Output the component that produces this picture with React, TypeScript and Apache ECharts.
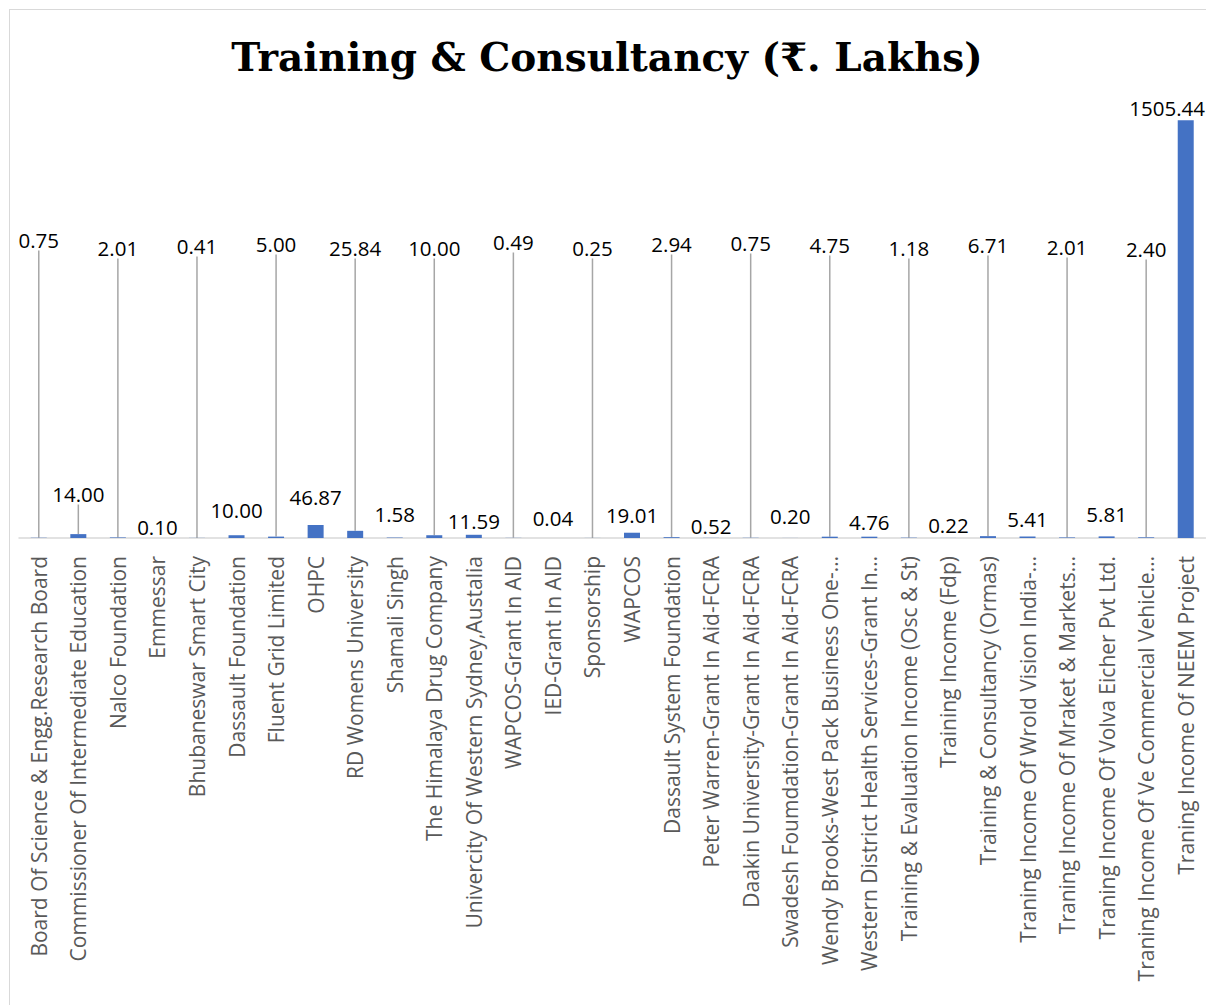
import React, { useEffect, useRef } from "react";
import * as echarts from "echarts";

const categories: string[] = [
  "Board Of Science & Engg.Research Board",
  "Commissioner Of Intermediate Education",
  "Nalco Foundation",
  "Emmessar",
  "Bhubaneswar Smart City",
  "Dassault Foundation",
  "Fluent Grid Limited",
  "OHPC",
  "RD Womens University",
  "Shamali Singh",
  "The Himalaya Drug Company",
  "Univercity Of Western Sydney,Austalia",
  "WAPCOS-Grant In AID",
  "IED-Grant In AID",
  "Sponsorship",
  "WAPCOS",
  "Dassault System Foundation",
  "Peter Warren-Grant In Aid-FCRA",
  "Daakin University-Grant In Aid-FCRA",
  "Swadesh Foumdation-Grant In Aid-FCRA",
  "Wendy Brooks-West Pack Business One-…",
  "Western District Health Services-Grant In…",
  "Training & Evaluation Income (Osc & St)",
  "Training Income (Fdp)",
  "Training & Consultancy (Ormas)",
  "Traning Income Of Wrold Vision India-…",
  "Traning Income Of Mraket & Markets…",
  "Traning Income Of Volva Eicher Pvt Ltd.",
  "Traning Income Of Ve Commercial Vehicle…",
  "Traning Income Of NEEM Project",
];

const values: number[] = [
  0.75, 14.0, 2.01, 0.1, 0.41, 10.0, 5.0, 46.87, 25.84, 1.58, 10.0, 11.59, 0.49, 0.04, 0.25,
  19.01, 2.94, 0.52, 0.75, 0.2, 4.75, 4.76, 1.18, 0.22, 6.71, 5.41, 2.01, 5.81, 2.4, 1505.44,
];

// label centre heights as placed in the reference (page pixels)
const labelCenterY: number[] = [
  240, 494, 248, 527, 246, 510, 244, 497, 248, 514, 248, 521, 242, 518, 248,
  515, 244, 526, 243, 516, 245, 522, 248, 525, 245, 519, 247, 514, 249, 108,
];
// which labels get a leader line
const leaderLine: boolean[] = values.map((_, i) => (i % 2 === 0 && i < 29) || i === 1);

const OFFSET = 10; // div content origin on the page
const VISIBLE_RIGHT = 1205 - OFFSET;

export default function App() {
  const ref = useRef<HTMLDivElement>(null);
  useEffect(() => {
    document.body.style.overflow = "hidden";
    const chart = echarts.init(ref.current!, undefined, { renderer: "svg" });
    chart.setOption({
      animation: false,
      backgroundColor: "#ffffff",
      title: {
        text: "Training & Consultancy (₹. Lakhs)",
        left: 602 - OFFSET,
        textAlign: "center",
        top: 22,
        textStyle: {
          fontFamily: "DejaVu Serif",
          fontWeight: "bold",
          fontSize: 39,
          color: "#000000",
        },
      },
      grid: { left: 9, top: 84, width: 1186.5, height: 444, containLabel: false },
      xAxis: {
        type: "category",
        data: categories,
        axisLine: { lineStyle: { color: "#d9d9d9", width: 1.5 } },
        axisTick: { show: false },
        axisLabel: {
          rotate: 90,
          interval: 0,
          margin: 18,
          fontFamily: "Open Sans",
          fontSize: 21,
          color: "#595959",
        },
      },
      yAxis: {
        type: "value",
        min: 0,
        max: 1600,
        show: false,
        splitLine: { show: false },
      },
      series: [
        {
          type: "bar",
          barWidth: 16,
          itemStyle: { color: "#4472C4" },
          data: values.map((v, i) => ({
            value: v,
            labelLine: { show: leaderLine[i] },
          })),
          label: {
            show: true,
            position: "top",
            distance: 6,
            formatter: (p: any) => p.value.toFixed(2),
            fontFamily: "Open Sans",
            fontSize: 20.5,
            color: "#000000",
          },
          labelLine: {
            lineStyle: { color: "#a6a6a6", width: 1.5 },
          },
          labelLayout: (p: any) => {
            const cy = labelCenterY[p.dataIndex];
            const w = p.labelRect.width;
            let cx = p.rect.x + p.rect.width / 2;
            if (cx + w / 2 > VISIBLE_RIGHT) cx = VISIBLE_RIGHT - w / 2;
            return {
              x: cx,
              y: cy - OFFSET,
              align: "center",
              verticalAlign: "middle",
            };
          },
        },
      ],
    });
    return () => chart.dispose();
  }, []);
  return (
    <div
      ref={ref}
      style={{
        position: "absolute",
        left: 9,
        top: 9,
        width: 1210,
        height: 1010,
        border: "1px solid #d9d9d9",
      }}
    />
  );
}
